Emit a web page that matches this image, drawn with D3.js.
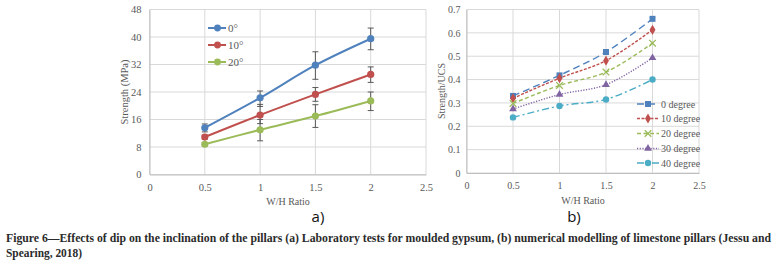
<!DOCTYPE html>
<html>
<head>
<meta charset="utf-8">
<script src="https://cdn.jsdelivr.net/npm/d3@7"></script>
<style>
  body { margin: 0; background: #fff; }
  svg { display: block; }
</style>
</head>
<body>
<svg id="chart" width="777" height="270"></svg>
<script>
// ---- data, panel a) laboratory tests ----
let ratiosA = [0.5, 1, 1.5, 2]
let labelsA = ['0°', '10°', '20°']
let strength0 = [13.6, 22.3, 31.8, 39.5]
let strength10 = [10.9, 17.3, 23.3, 29.1]
let strength20 = [8.8, 13.0, 17.0, 21.4]
let errLow0 = [12.4, 19.8, 27.7, 36.3]
let errHigh0 = [14.7, 24.3, 35.7, 42.6]
let errLow10 = [10.3, 14.8, 21.3, 26.8]
let errHigh10 = [11.5, 20.4, 25.3, 31.3]
let errLow20 = [8.3, 9.8, 13.7, 18.6]
let errHigh20 = [9.3, 16.0, 20.3, 24.0]
let yTicksA = [0, 8, 16, 24, 32, 40, 48]
let xTicks = [0, 0.5, 1, 1.5, 2, 2.5]

// ---- data, panel b) numerical modelling ----
let ratiosB = [0.5, 1, 1.5, 2]
let labelsB = ['0 degree', '10 degree', '20 degree', '30 degree', '40 degree']
let ucs0 = [0.330, 0.418, 0.518, 0.660]
let ucs10 = [0.320, 0.406, 0.481, 0.613]
let ucs20 = [0.298, 0.375, 0.432, 0.556]
let ucs30 = [0.274, 0.336, 0.378, 0.493]
let ucs40 = [0.238, 0.287, 0.315, 0.400]
let yTicksB = [0, 0.1, 0.2, 0.3, 0.4, 0.5, 0.6, 0.7]

let svg = d3.select('#chart')
let serif = '"Liberation Serif", "Times New Roman", serif'

function frame(g, x, y, yTicks, tickFmt, fontSize, pad) {
    // gridlines
    g.selectAll('.hg').data(yTicks).enter().append('line')
        .attr('x1', x.range()[0]).attr('x2', x.range()[1])
        .attr('y1', d => y(d)).attr('y2', d => y(d))
        .attr('stroke', '#d9d9d9').attr('stroke-width', 1)
    g.selectAll('.vg').data(xTicks).enter().append('line')
        .attr('x1', d => x(d)).attr('x2', d => x(d))
        .attr('y1', y.range()[0]).attr('y2', y.range()[1])
        .attr('stroke', '#d9d9d9').attr('stroke-width', 1)

    let ax = g.append('g')
        .attr('transform', 'translate(0,' + y.range()[0] + ')')
        .call(d3.axisBottom(x).tickValues(xTicks).tickSize(0).tickPadding(9).tickFormat(d3.format('')))
    ax.attr('font-family', serif).attr('font-size', fontSize)
    ax.select('.domain').attr('stroke', '#bfbfbf')
    ax.selectAll('text').attr('fill', '#595959')

    let ay = g.append('g')
        .attr('transform', 'translate(' + x.range()[0] + ',0)')
        .call(d3.axisLeft(y).tickValues(yTicks).tickSize(0).tickPadding(pad).tickFormat(tickFmt))
    ay.attr('font-family', serif).attr('font-size', fontSize)
    ay.select('.domain').attr('stroke', '#bfbfbf')
    ay.selectAll('text').attr('fill', '#595959')
}

// ================= panel a) =================
let xA = d3.scaleLinear().domain([0, 2.5]).range([149.5, 426])
let yA = d3.scaleLinear().domain([0, 48]).range([174.5, 9.5])
let gA = svg.append('g')
frame(gA, xA, yA, yTicksA, d3.format(''), 10.5, 8)

let seriesA = [
    {name: labelsA[0], vals: strength0, lo: errLow0, hi: errHigh0, color: '#4f81bd'},
    {name: labelsA[1], vals: strength10, lo: errLow10, hi: errHigh10, color: '#c0504d'},
    {name: labelsA[2], vals: strength20, lo: errLow20, hi: errHigh20, color: '#9bbb59'}
]

let lineA = d3.line().x(d => xA(d[0])).y(d => yA(d[1])).curve(d3.curveCatmullRom)

seriesA.forEach((s) => {
    let pts = ratiosA.map((r, i) => [r, s.vals[i]])
    gA.append('path').attr('d', lineA(pts))
        .attr('fill', 'none').attr('stroke', s.color).attr('stroke-width', 2)
})
seriesA.forEach((s) => {
    ratiosA.forEach((r, i) => {
        let cx = xA(r)
        gA.append('line').attr('x1', cx).attr('x2', cx)
            .attr('y1', yA(s.lo[i])).attr('y2', yA(s.hi[i]))
            .attr('stroke', '#595959').attr('stroke-width', 1)
        ;[s.lo[i], s.hi[i]].forEach(v => {
            gA.append('line').attr('x1', cx - 3).attr('x2', cx + 3)
                .attr('y1', yA(v)).attr('y2', yA(v))
                .attr('stroke', '#595959').attr('stroke-width', 1)
        })
    })
})
seriesA.forEach((s) => {
    gA.selectAll(null).data(ratiosA).enter().append('circle')
        .attr('cx', d => xA(d)).attr('cy', (d, i) => yA(s.vals[i]))
        .attr('r', 3.6).attr('fill', s.color)
})

// legend a)
let legYA = [28, 45, 62]
seriesA.forEach((s, i) => {
    gA.append('line').attr('x1', 208).attr('x2', 226)
        .attr('y1', legYA[i]).attr('y2', legYA[i])
        .attr('stroke', s.color).attr('stroke-width', 2)
    gA.append('circle').attr('cx', 217.5).attr('cy', legYA[i]).attr('r', 3.4).attr('fill', s.color)
    gA.append('text').attr('x', 228).attr('y', legYA[i] + 4)
        .attr('font-family', serif).attr('font-size', 11).attr('fill', '#595959')
        .text(s.name)
})

gA.append('text').attr('transform', 'translate(128,92) rotate(-90)')
    .attr('text-anchor', 'middle').attr('font-family', serif).attr('font-size', 10.5)
    .attr('fill', '#595959').text('Strength (MPa)')
gA.append('text').attr('x', 288).attr('y', 205)
    .attr('text-anchor', 'middle').attr('font-family', serif).attr('font-size', 10)
    .attr('fill', '#595959').text('W/H Ratio')
gA.append('text').attr('x', 318).attr('y', 222)
    .attr('text-anchor', 'middle').attr('font-family', '"Open Sans", "DejaVu Sans", sans-serif')
    .attr('font-size', 15).attr('fill', '#111').text('a)')

// ================= panel b) =================
let xB = d3.scaleLinear().domain([0, 2.5]).range([466.5, 699])
let yB = d3.scaleLinear().domain([0, 0.7]).range([173, 9.5])
let gB = svg.append('g')
frame(gB, xB, yB, yTicksB, d => d === 0 ? '0' : d3.format('.1f')(d), 10, 6)

let seriesB = [
    {name: labelsB[0], vals: ucs0, color: '#4f81bd', dash: '7,4', mark: 'square'},
    {name: labelsB[1], vals: ucs10, color: '#c0504d', dash: '3,1.5', mark: 'diamond'},
    {name: labelsB[2], vals: ucs20, color: '#9bbb59', dash: '4,2.5', mark: 'x'},
    {name: labelsB[3], vals: ucs30, color: '#8064a2', dash: '1.2,1.5', mark: 'triangle'},
    {name: labelsB[4], vals: ucs40, color: '#4bacc6', dash: '7,3,2,3', mark: 'circle'}
]

let lineB = d3.line().x(d => xB(d[0])).y(d => yB(d[1])).curve(d3.curveCatmullRom)

function marker(g, kind, cx, cy, color) {
    if (kind === 'square') {
        g.append('rect').attr('x', cx - 3).attr('y', cy - 3).attr('width', 6).attr('height', 6).attr('fill', color)
    } else if (kind === 'diamond') {
        g.append('path').attr('d', d3.symbol(d3.symbolDiamond, 30)()).attr('transform', 'translate(' + cx + ',' + cy + ')').attr('fill', color)
    } else if (kind === 'x') {
        g.append('path').attr('d', d3.symbol(d3.symbolX, 30)()).attr('transform', 'translate(' + cx + ',' + cy + ')')
            .attr('fill', 'none').attr('stroke', color).attr('stroke-width', 1.3)
    } else if (kind === 'triangle') {
        g.append('path').attr('d', d3.symbol(d3.symbolTriangle, 26)()).attr('transform', 'translate(' + cx + ',' + cy + ')').attr('fill', color)
    } else {
        g.append('circle').attr('cx', cx).attr('cy', cy).attr('r', 3.2).attr('fill', color)
    }
}

seriesB.forEach((s) => {
    let pts = ratiosB.map((r, i) => [r, s.vals[i]])
    gB.append('path').attr('d', lineB(pts))
        .attr('fill', 'none').attr('stroke', s.color).attr('stroke-width', 1.4)
        .attr('stroke-dasharray', s.dash)
    ratiosB.forEach((r, i) => marker(gB, s.mark, xB(r), yB(s.vals[i]), s.color))
})

// legend b)
let legYB = [104, 118.5, 133.5, 148.5, 163]
seriesB.forEach((s, i) => {
    gB.append('line').attr('x1', 637).attr('x2', 659)
        .attr('y1', legYB[i]).attr('y2', legYB[i])
        .attr('stroke', s.color).attr('stroke-width', 1.4).attr('stroke-dasharray', s.dash)
    marker(gB, s.mark, 648, legYB[i], s.color)
    gB.append('text').attr('x', 661).attr('y', legYB[i] + 3.5)
        .attr('font-family', serif).attr('font-size', 10).attr('fill', '#595959')
        .text(s.name)
})

gB.append('text').attr('transform', 'translate(445,91) rotate(-90)')
    .attr('text-anchor', 'middle').attr('font-family', serif).attr('font-size', 10)
    .attr('fill', '#595959').text('Strength/UCS')
gB.append('text').attr('x', 583).attr('y', 204)
    .attr('text-anchor', 'middle').attr('font-family', serif).attr('font-size', 10)
    .attr('fill', '#595959').text('W/H Ratio')
gB.append('text').attr('x', 574).attr('y', 222)
    .attr('text-anchor', 'middle').attr('font-family', '"Open Sans", "DejaVu Sans", sans-serif')
    .attr('font-size', 15).attr('fill', '#111').text('b)')

// ================= caption =================
let caption1 = 'Figure 6—Effects of dip on the inclination of the pillars (a) Laboratory tests for moulded gypsum, (b) numerical modelling of limestone pillars (Jessu and'
let caption2 = 'Spearing, 2018)'
svg.append('text').attr('x', 6).attr('y', 242)
    .attr('font-family', serif).attr('font-weight', 'bold').attr('font-size', 11.5)
    .attr('fill', '#2b2b2b').attr('textLength', 765).attr('lengthAdjust', 'spacingAndGlyphs')
    .text(caption1)
svg.append('text').attr('x', 6).attr('y', 257)
    .attr('font-family', serif).attr('font-weight', 'bold').attr('font-size', 11.5)
    .attr('fill', '#2b2b2b').attr('textLength', 76).attr('lengthAdjust', 'spacingAndGlyphs')
    .text(caption2)
</script>
</body>
</html>
